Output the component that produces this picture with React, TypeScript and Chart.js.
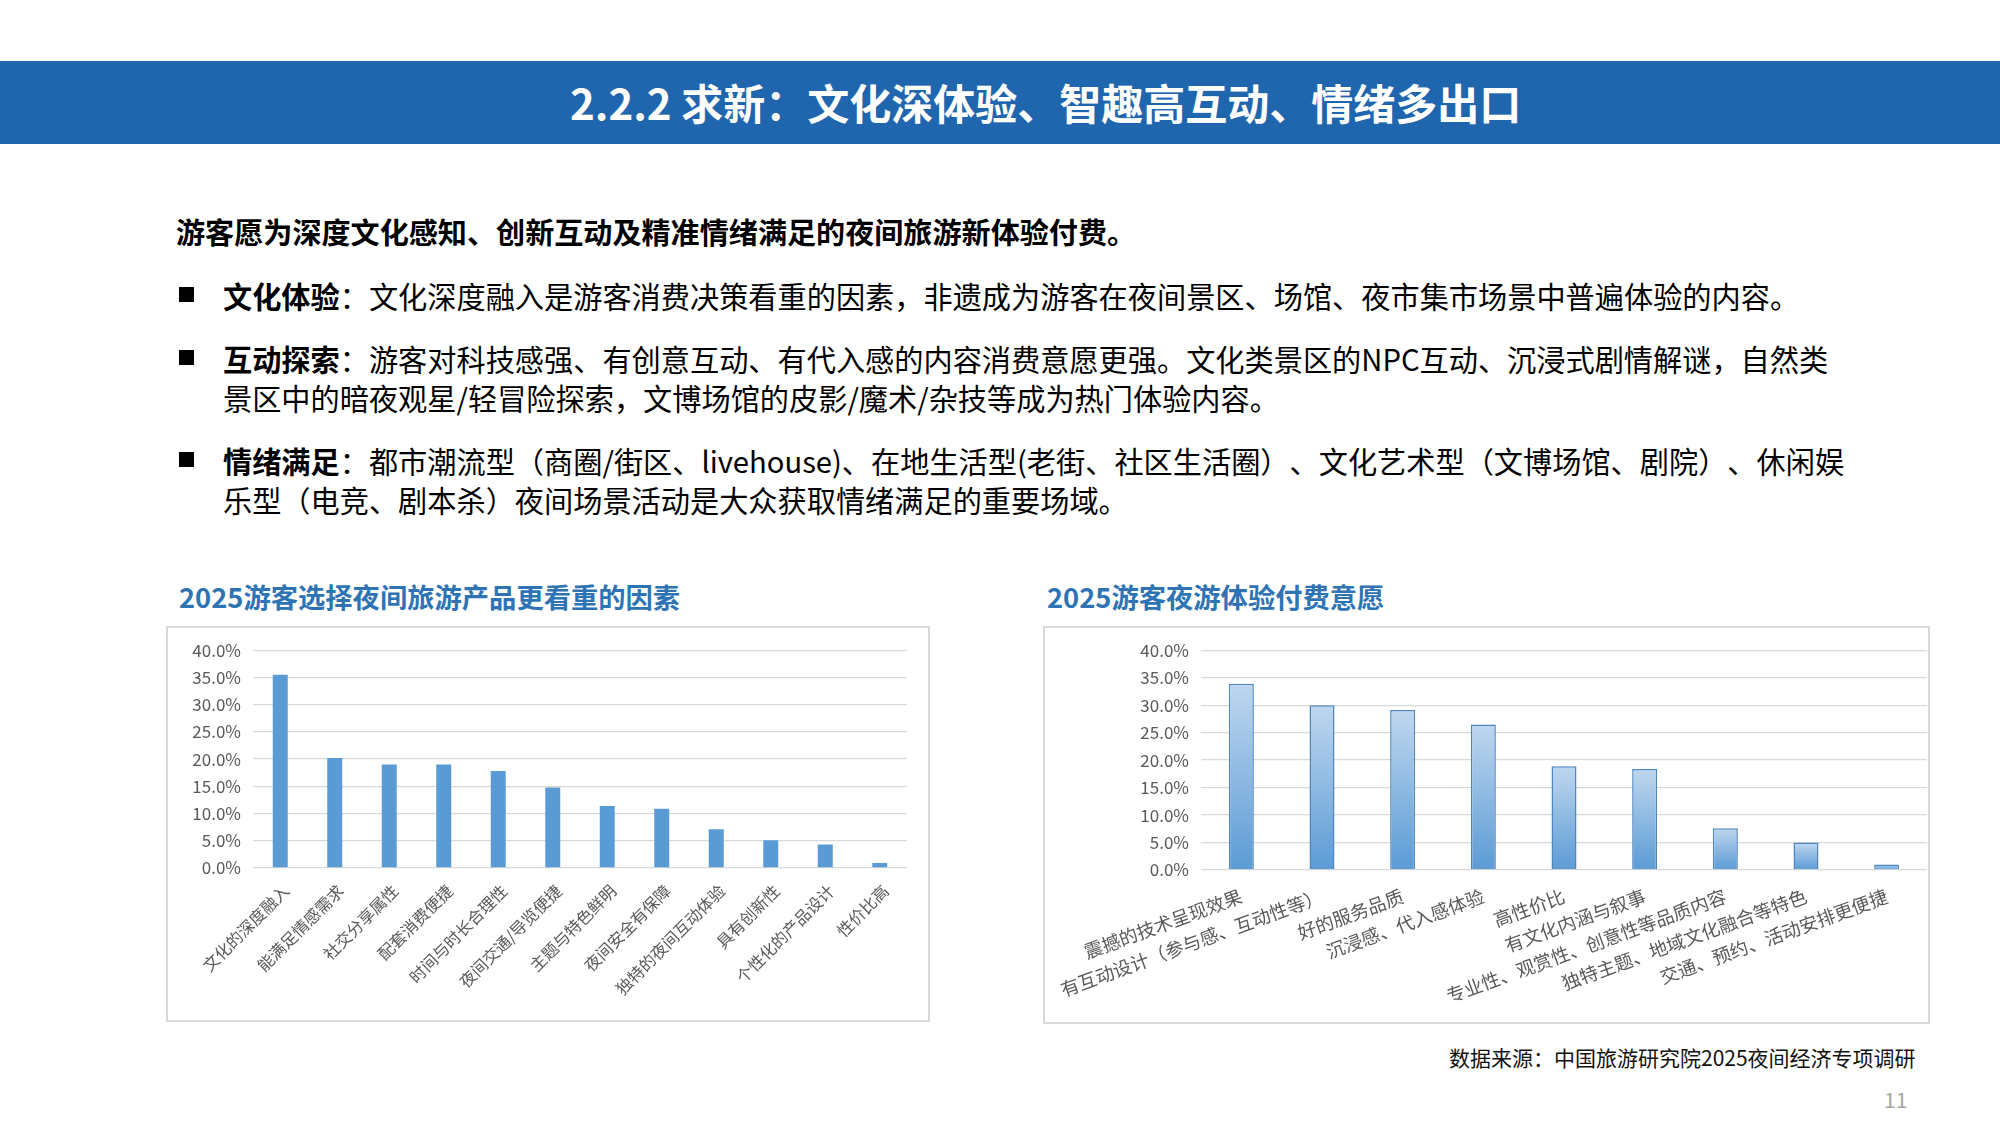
import React, { useEffect, useRef } from 'react';
import { Chart, registerables } from 'chart.js';

Chart.register(...registerables);

const FONT = '"Noto Sans CJK SC", "Noto Sans", sans-serif';

// 2025游客选择夜间旅游产品更看重的因素
const factorLabels = [
  '文化的深度融入',
  '能满足情感需求',
  '社交分享属性',
  '配套消费便捷',
  '时间与时长合理性',
  '夜间交通/导览便捷',
  '主题与特色鲜明',
  '夜间安全有保障',
  '独特的夜间互动体验',
  '具有创新性',
  '个性化的产品设计',
  '性价比高',
];
const factorValues = [35.5, 20.2, 19.0, 19.0, 17.8, 14.8, 11.4, 10.9, 7.1, 5.1, 4.3, 0.9];

// 2025游客夜游体验付费意愿
const payLabels = [
  '震撼的技术呈现效果',
  '有互动设计（参与感、互动性等）',
  '好的服务品质',
  '沉浸感、代入感体验',
  '高性价比',
  '有文化内涵与叙事',
  '专业性、观赏性、创意性等品质内容',
  '独特主题、地域文化融合等特色',
  '交通、预约、活动安排更便捷',
];
const payValues = [33.9, 30.0, 29.1, 26.5, 18.9, 18.4, 7.6, 5.0, 1.0];

const yMax = 40;
const yStep = 5;

type BarProps = {
  labels: string[];
  values: number[];
  left: number;
  top: number;
  width: number;
  height: number;
  rotation: number;
  labelSize: number;
  labelOffset: number;
  barPct: number;
  yWidth: number;
  xHeight: number;
  padTop: number;
  padRight: number;
  xPad: number;
  gradient?: boolean;
};

function BarChart(p: BarProps) {
  const chartRef = useRef<HTMLCanvasElement | null>(null);
  const chartInstance = useRef<Chart | null>(null);

  useEffect(() => {
    if (chartInstance.current) {
      chartInstance.current.destroy();
    }
    const ctx = chartRef.current?.getContext('2d');
    if (!ctx) return;

    // right chart: each bar fades from light blue at the top to mid blue at the base
    const fill = (c: any) => {
      if (!p.gradient || c.type !== 'data') return '#5b9bd5';
      const y = c.chart.scales.y;
      if (!y) return '#5b9bd5';
      const t = y.getPixelForValue(c.parsed.y);
      const b = y.getPixelForValue(0);
      if (!isFinite(t) || !isFinite(b) || t === b) return '#5b9bd5';
      const g = c.chart.ctx.createLinearGradient(0, t, 0, b);
      g.addColorStop(0, '#bfd7ef');
      g.addColorStop(1, '#5b9bd5');
      return g;
    };

    chartInstance.current = new Chart(ctx, {
      type: 'bar',
      data: {
        labels: p.labels,
        datasets: [
          {
            data: p.values,
            backgroundColor: fill,
            borderColor: p.gradient ? '#4f86c0' : '#5b9bd5',
            borderWidth: p.gradient ? 1.5 : 0,
            barPercentage: p.barPct,
            categoryPercentage: 1,
          },
        ],
      },
      options: {
        responsive: true,
        maintainAspectRatio: false,
        animation: false,
        layout: { padding: { top: p.padTop, right: p.padRight, left: 0, bottom: 0 } },
        plugins: {
          legend: { display: false },
          tooltip: { enabled: false },
        },
        scales: {
          x: {
            grid: { display: false },
            border: { display: false },
            ticks: {
              autoSkip: false,
              minRotation: p.rotation,
              maxRotation: p.rotation,
              padding: p.xPad,
              labelOffset: p.labelOffset,
              color: '#595959',
              font: { family: FONT, size: p.labelSize },
            },
            afterFit: (s: any) => {
              s.height = p.xHeight;
            },
          },
          y: {
            min: 0,
            max: yMax,
            border: { display: false },
            grid: { color: '#d9d9d9', lineWidth: 1.3, drawTicks: false },
            ticks: {
              stepSize: yStep,
              padding: 12,
              color: '#595959',
              font: { family: FONT, size: 17 },
              callback: (v: any) => Number(v).toFixed(1) + '%',
            },
            afterFit: (s: any) => {
              s.width = p.yWidth;
            },
          },
        },
      },
    });

    return () => {
      if (chartInstance.current) {
        chartInstance.current.destroy();
        chartInstance.current = null;
      }
    };
  }, []);

  return (
    <div
      style={{
        position: 'absolute',
        left: p.left,
        top: p.top,
        width: p.width,
        height: p.height,
        border: '2px solid #d9d9d9',
        boxSizing: 'border-box',
        background: '#fff',
      }}
    >
      <div style={{ position: 'relative', width: '100%', height: '100%' }}>
        <canvas ref={chartRef} />
      </div>
    </div>
  );
}

const text: React.CSSProperties = {
  position: 'absolute',
  whiteSpace: 'nowrap',
  fontFamily: FONT,
  color: '#000',
};

function Bullet({ top }: { top: number }) {
  return (
    <div
      style={{ position: 'absolute', left: 179, top: top, width: 15, height: 15, background: '#000' }}
    />
  );
}

export default function App() {
  return (
    <div
      style={{
        position: 'absolute',
        left: 0,
        top: 0,
        width: 2000,
        height: 1125,
        background: '#fff',
        overflow: 'hidden',
        fontFamily: FONT,
      }}
    >
      {/* keep full-width punctuation pairs like "）、" at full width */}
      <style>{'* { text-spacing-trim: space-all; }'}</style>
      <div
        style={{
          position: 'absolute',
          left: 0,
          top: 61,
          width: 2000,
          height: 83,
          background: '#2066ae',
        }}
      />
      <div
        style={{
          ...text,
          left: 570,
          top: 72,
          lineHeight: '60px',
          fontSize: 42,
          fontWeight: 700,
          color: '#fff',
        }}
      >
        2.2.2 求新：文化深体验、智趣高互动、情绪多出口
      </div>

      <div style={{ ...text, left: 176, top: 212, lineHeight: '38px', fontSize: 29.1, fontWeight: 700 }}>
        游客愿为深度文化感知、创新互动及精准情绪满足的夜间旅游新体验付费。
      </div>

      <Bullet top={287} />
      <div style={{ ...text, left: 223, top: 276, lineHeight: '38px', fontSize: 29.2 }}>
        <b>文化体验</b>：文化深度融入是游客消费决策看重的因素，非遗成为游客在夜间景区、场馆、夜市集市场景中普遍体验的内容。
      </div>

      <Bullet top={350} />
      <div style={{ ...text, left: 223, top: 339, lineHeight: '39px', fontSize: 29.2 }}>
        <b>互动探索</b>：游客对科技感强、有创意互动、有代入感的内容消费意愿更强。文化类景区的NPC互动、沉浸式剧情解谜，自然类
        <br />
        景区中的暗夜观星/轻冒险探索，文博场馆的皮影/魔术/杂技等成为热门体验内容。
      </div>

      <Bullet top={452} />
      <div style={{ ...text, left: 223, top: 441, lineHeight: '39px', fontSize: 29.2 }}>
        <b>情绪满足</b>：都市潮流型（商圈/街区、livehouse)、在地生活型(老街、社区生活圈）、文化艺术型（文博场馆、剧院）、休闲娱
        <br />
        乐型（电竞、剧本杀）夜间场景活动是大众获取情绪满足的重要场域。
      </div>

      <div
        style={{ ...text, left: 179, top: 577, lineHeight: '38px', fontSize: 27.3, fontWeight: 700, color: '#2e74b5' }}
      >
        2025游客选择夜间旅游产品更看重的因素
      </div>
      <div
        style={{ ...text, left: 1047, top: 577, lineHeight: '38px', fontSize: 27.3, fontWeight: 700, color: '#2e74b5' }}
      >
        2025游客夜游体验付费意愿
      </div>

      <BarChart
        labels={factorLabels}
        values={factorValues}
        left={166}
        top={626}
        width={764}
        height={396}
        rotation={45}
        labelSize={16.3}
        labelOffset={6}
        barPct={0.275}
        yWidth={85}
        xHeight={152}
        padTop={21}
        padRight={21}
        xPad={5}
      />
      <BarChart
        labels={payLabels}
        values={payValues}
        left={1043}
        top={626}
        width={887}
        height={398}
        rotation={20}
        labelSize={18.5}
        labelOffset={0}
        barPct={0.31}
        yWidth={156}
        xHeight={152}
        padTop={21}
        padRight={1}
        xPad={7}
        gradient
      />

      <div style={{ ...text, left: 1449, top: 1043, lineHeight: '28px', fontSize: 21, color: '#111' }}>
        数据来源：中国旅游研究院2025夜间经济专项调研
      </div>
      <div style={{ ...text, left: 1884, top: 1085, lineHeight: '28px', fontSize: 21, color: '#a6a6a6' }}>
        11
      </div>
    </div>
  );
}
